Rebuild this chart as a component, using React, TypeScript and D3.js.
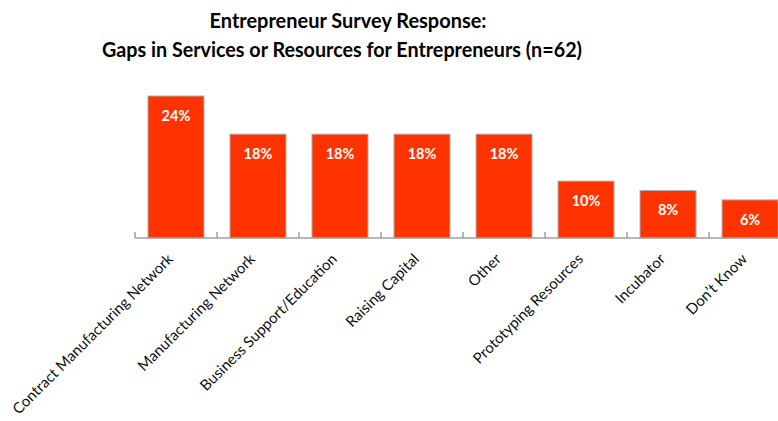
import { useRef, useEffect } from "react";
import * as d3 from "d3";

const categories = [
  "Contract Manufacturing Network",
  "Manufacturing Network",
  "Business Support/Education",
  "Raising Capital",
  "Other",
  "Prototyping Resources",
  "Incubator",
  "Don\u2019t Know",
];
// share of respondents (%), n=62
const values = [24.2, 17.7, 17.7, 17.7, 17.7, 9.7, 8.1, 6.5];
const valueLabels = ["24%", "18%", "18%", "18%", "18%", "10%", "8%", "6%"];
const titleLines = [
  "Entrepreneur Survey Response:",
  "Gaps in Services or Resources for Entrepreneurs (n=62)",
];

const WIDTH = 778;
const HEIGHT = 421;

export default function App() {
  const svgRef = useRef<SVGSVGElement | null>(null);

  useEffect(() => {
    if (!svgRef.current) return;
    const svg = d3.select(svgRef.current);
    svg.selectAll("*").remove();

    const baseline = 238;
    const x = d3
      .scaleBand<string>()
      .domain(categories)
      .range([135, 791])
      .paddingInner(0.317)
      .paddingOuter(0.158);
    const y = d3.scaleLinear().domain([0, 24.2]).range([baseline, 96]);

    // title
    svg
      .append("g")
      .selectAll("text")
      .data(titleLines)
      .enter()
      .append("text")
      .attr("x", (_, i) => (i === 0 ? 348 : 342))
      .attr("y", (_, i) => 28 + i * 29)
      .attr("text-anchor", "middle")
      .attr("textLength", (_, i) => (i === 0 ? 277 : 480))
      .attr("lengthAdjust", "spacingAndGlyphs")
      .style("font-family", "Lato, 'Open Sans', sans-serif")
      .style("font-weight", "bold")
      .style("font-size", "21px")
      .style("fill", "#000")
      .text((d) => d);

    // bars
    const bars = svg
      .append("g")
      .selectAll("g")
      .data(categories)
      .enter()
      .append("g");

    bars
      .append("rect")
      .attr("x", (d) => x(d)!)
      .attr("width", x.bandwidth())
      .attr("y", (_, i) => y(values[i]))
      .attr("height", (_, i) => baseline - y(values[i]))
      .attr("fill", "#ff3300")
      .attr("stroke", "#b0b0b0")
      .attr("stroke-width", 1);

    bars
      .append("text")
      .attr("x", (d) => x(d)! + x.bandwidth() / 2)
      .attr("y", (_, i) => y(values[i]) + 25)
      .attr("text-anchor", "middle")
      .style("font-family", "Lato, 'Open Sans', sans-serif")
      .style("font-weight", "bold")
      .style("font-size", "14.5px")
      .style("fill", "#fff")
      .text((_, i) => valueLabels[i]);

    // axis line with ticks between categories
    const axis = svg.append("g").attr("stroke", "#a0a0a0").attr("stroke-width", 1.5);
    axis
      .append("line")
      .attr("x1", 135)
      .attr("x2", WIDTH)
      .attr("y1", baseline)
      .attr("y2", baseline);
    axis
      .selectAll("line.tick")
      .data(categories)
      .enter()
      .append("line")
      .attr("class", "tick")
      .attr("x1", (d) => x(d)! - x.step() * 0.158)
      .attr("x2", (d) => x(d)! - x.step() * 0.158)
      .attr("y1", baseline - 6)
      .attr("y2", baseline);

    // rotated category labels
    svg
      .append("g")
      .selectAll("text")
      .data(categories)
      .enter()
      .append("text")
      .attr(
        "transform",
        (d) => `translate(${x(d)! + x.bandwidth() / 2 - 2},${baseline + 22}) rotate(-45)`
      )
      .attr("text-anchor", "end")
      .style("font-family", "Lato, 'Open Sans', sans-serif")
      .style("font-size", "15px")
      .style("fill", "#111")
      .text((d) => d);
  }, []);

  return (
    <svg
      ref={svgRef}
      width={WIDTH}
      height={HEIGHT}
      style={{ position: "absolute", left: 0, top: 0, background: "#fff" }}
    ></svg>
  );
}
